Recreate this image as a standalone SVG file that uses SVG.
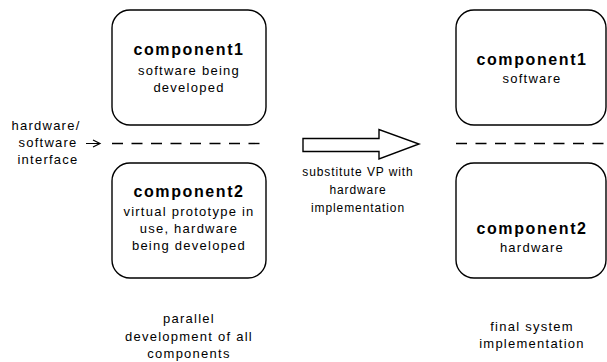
<svg xmlns="http://www.w3.org/2000/svg" width="607" height="362" viewBox="0 0 607 362">
  <style>
    .box { fill: #ffffff; stroke: #000000; stroke-width: 1.4; }
    .dash { fill: none; stroke: #000000; stroke-width: 1.4; stroke-dasharray: 11 8.5; }
    .line { fill: none; stroke: #000000; stroke-width: 1.2; }
    text { font-family: "Liberation Sans", Arial, Helvetica, sans-serif; fill: #000000; text-anchor: middle; }
    .title { font-size: 16px; font-weight: bold; letter-spacing: 1.6px; }
    .body { font-size: 13px; letter-spacing: 1.25px; }
    .note { font-size: 12px; letter-spacing: 0.9px; }
  </style>
  <rect width="607" height="362" fill="#ffffff"/>

  <!-- development stage -->
  <g id="dev-component1">
    <rect class="box" x="112" y="10" width="154" height="115" rx="18" ry="18"/>
    <text class="title" x="189" y="55">component1</text>
    <text class="body" x="189" y="75">software being</text>
    <text class="body" x="189" y="92">developed</text>
  </g>
  <g id="dev-component2">
    <rect class="box" x="112" y="163" width="154" height="115" rx="18" ry="18"/>
    <text class="title" x="189" y="197">component2</text>
    <text class="body" x="189" y="215.5">virtual prototype in</text>
    <text class="body" x="189" y="233">use, hardware</text>
    <text class="body" x="189" y="250">being developed</text>
  </g>

  <!-- final stage -->
  <g id="final-component1">
    <rect class="box" x="456" y="10" width="150" height="115" rx="18" ry="18"/>
    <text class="title" x="532" y="65">component1</text>
    <text class="body" x="532" y="83">software</text>
  </g>
  <g id="final-component2">
    <rect class="box" x="456" y="163" width="150" height="115" rx="18" ry="18"/>
    <text class="title" x="532" y="234">component2</text>
    <text class="body" x="532" y="252">hardware</text>
  </g>

  <!-- interface lines and arrows -->
  <g id="connectors">
    <line class="dash" x1="112" y1="143.5" x2="262" y2="143.5"/>
    <line class="dash" x1="456" y1="143.5" x2="607" y2="143.5"/>
    <path class="line" d="M86,143.5 H100 M93,140 L100,143.5 L93,147"/>
    <path class="box" d="M303,138.5 H379 V129.5 L419,144 L379,159 V151.5 H303 Z"/>
  </g>

  <!-- labels -->
  <g id="labels">
    <text class="body" x="46" y="130">hardware/</text>
    <text class="body" x="48" y="147">software</text>
    <text class="body" x="48" y="163.5">interface</text>

    <text class="note" x="358" y="176">substitute VP with</text>
    <text class="note" x="358" y="194">hardware</text>
    <text class="note" x="358" y="212">implementation</text>

    <text class="body" x="189" y="323">parallel</text>
    <text class="body" x="189" y="341">development of all</text>
    <text class="body" x="189" y="358">components</text>

    <text class="body" x="532" y="331">final system</text>
    <text class="body" x="532" y="348">implementation</text>
  </g>
</svg>
